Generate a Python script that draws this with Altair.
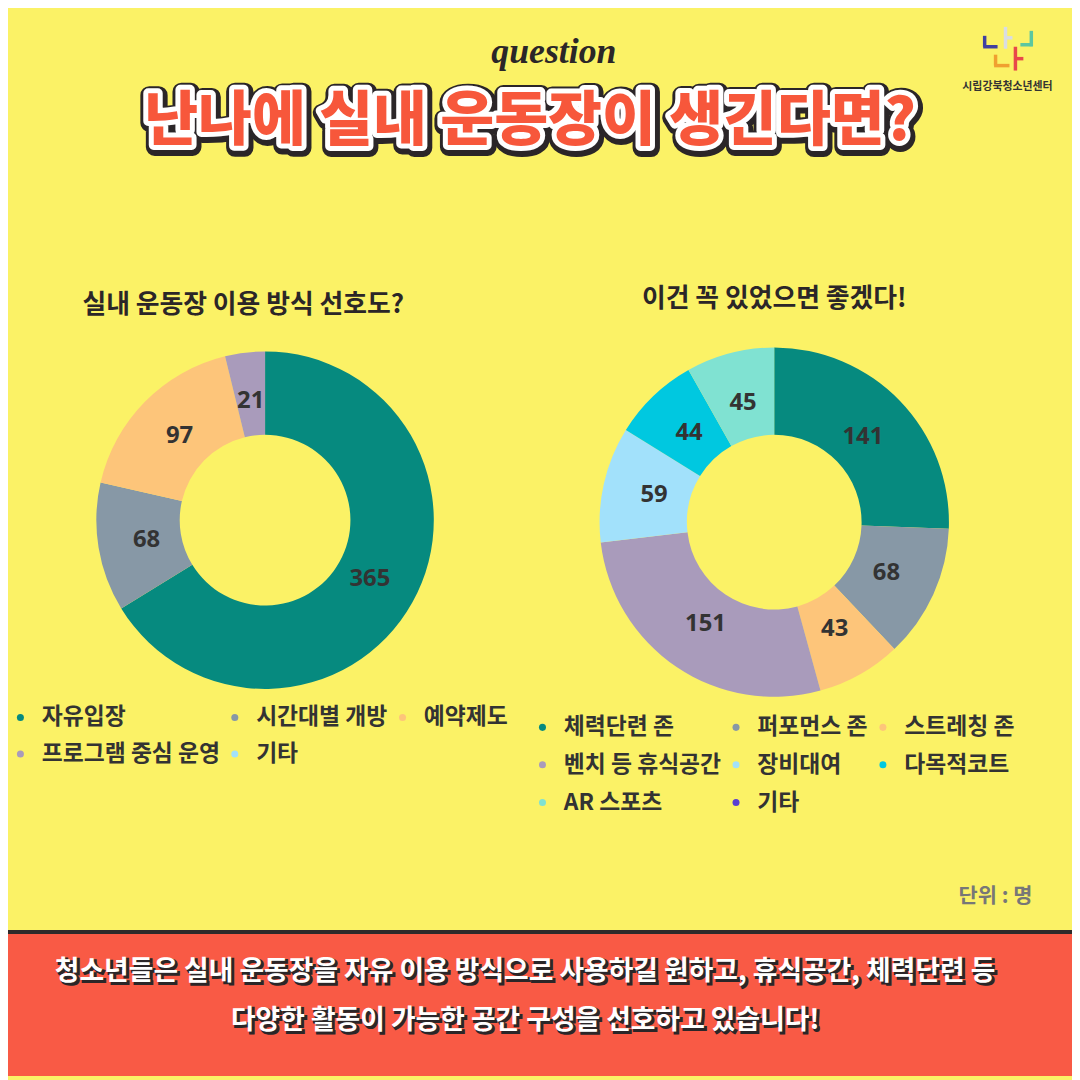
import altair as alt
import pandas as pd

# ---------------- data ----------------
left_cats = ["자유입장", "시간대별 개방", "예약제도", "프로그램 중심 운영", "기타"]
left_vals = [365, 68, 97, 21, 0]
left_colors = ["#068a7f", "#8798a6", "#fdc57a", "#a99bbb", "#a2e1fb"]

right_cats = ["체력단련 존", "퍼포먼스 존", "스트레칭 존", "벤치 등 휴식공간",
              "장비대여", "다목적코트", "AR 스포츠", "기타"]
right_vals = [141, 68, 43, 151, 59, 44, 45, 0]
right_colors = ["#068a7f", "#8798a6", "#fdc57a", "#a99bbb",
                "#a2e1fb", "#00c8e0", "#80e2d2", "#5a3fd0"]

question_text = "question"
main_title = "난나에 실내 운동장이 생긴다면?"
left_title = "실내 운동장 이용 방식 선호도?"
right_title = "이건 꼭 있었으면 좋겠다!"
unit_text = "단위 : 명"
logo_text = "시립강북청소년센터"
footer_lines = ["청소년들은 실내 운동장을 자유 이용 방식으로 사용하길 원하고, 휴식공간, 체력단련 등",
                "다양한 활동이 가능한 공간 구성을 선호하고 있습니다!"]

# ---------------- helpers ----------------
OFF = 8  # page margin
KR = "Noto Sans CJK KR"
DARK = "#2b2628"
BG = "#fbf266"

dummy = pd.DataFrame({"a": [0]})


def P(v):
    return v - OFF


def txt(text, x, y, **kw):
    return alt.Chart(dummy).mark_text(text=text, **kw).encode(
        x=alt.value(P(x)), y=alt.value(P(y)))


def rule(x1, y1, x2, y2, color, w=3.5):
    return alt.Chart(dummy).mark_rule(color=color, strokeWidth=w, strokeCap="butt").encode(
        x=alt.value(P(x1)), y=alt.value(P(y1)), x2=alt.value(P(x2)), y2=alt.value(P(y2)))


def donut(cats, vals, colors, cx, cy, r_in, r_out, r_lab, lx, ly, row_pad):
    df = pd.DataFrame({"cat": cats, "value": vals, "idx": list(range(len(cats)))})
    base = alt.Chart(df).encode(
        theta=alt.Theta("value:Q", stack=True),
        order=alt.Order("idx:Q"),
        x=alt.value(P(cx)), y=alt.value(P(cy)),
    )
    arcs = base.mark_arc(innerRadius=r_in, outerRadius=r_out, strokeWidth=0).encode(
        color=alt.Color(
            "cat:N",
            sort=cats,
            scale=alt.Scale(domain=cats, range=colors),
            legend=alt.Legend(
                orient="none", legendX=P(lx), legendY=P(ly), columns=3,
                direction="horizontal", gridAlign="each",
                title=None, symbolType="circle", symbolSize=50, symbolStrokeWidth=0,
                labelFont=KR, labelFontSize=23, labelFontWeight="bold",
                labelColor="#333333", labelOffset=10, columnPadding=3,
                rowPadding=row_pad, labelLimit=400, padding=0,
            ),
        )
    )
    labels = base.transform_filter("datum.value > 0").mark_text(
        radius=r_lab, font="Open Sans", fontWeight="bold", fontSize=24,
        color="#333333", align="center", baseline="middle",
    ).encode(text="value:Q", detail="cat:N")
    return [arcs, labels]


layers = []

# footer band
layers.append(alt.Chart(dummy).mark_rect(color="#2e2a2a").encode(
    x=alt.value(0), x2=alt.value(1072), y=alt.value(P(933)), y2=alt.value(P(937))))
layers.append(alt.Chart(dummy).mark_rect(color="#f95a45").encode(
    x=alt.value(0), x2=alt.value(1072), y=alt.value(P(937)), y2=alt.value(1072)))

for i, line in enumerate(footer_lines):
    y = 975 + i * 50
    layers.append(txt(line, 529 + 2, y + 2, font=KR, fontWeight="bold", fontSize=27,
                      color=DARK, stroke=DARK, strokeWidth=2, align="center", baseline="middle"))
    layers.append(txt(line, 529, y, font=KR, fontWeight="bold", fontSize=27,
                      color="#ffffff", align="center", baseline="middle"))

# question + main title
layers.append(txt(question_text, 558, 48, font="Liberation Serif", fontStyle="italic",
                  fontWeight="bold", fontSize=36, color=DARK, align="center", baseline="middle"))
layers.append(txt(main_title, 535, 121, font=KR, fontWeight=900, fontSize=59,
                  color=DARK, stroke=DARK, strokeWidth=18, strokeJoin="round",
                  align="center", baseline="middle"))
layers.append(txt(main_title, 534, 119, font=KR, fontWeight=900, fontSize=59,
                  color="#ffffff", stroke="#ffffff", strokeWidth=10, strokeJoin="round",
                  align="center", baseline="middle"))
layers.append(txt(main_title, 534, 119, font=KR, fontWeight=900, fontSize=59,
                  color="#f7573b", align="center", baseline="middle"))

# subtitles
layers.append(txt(left_title, 245, 303, font=KR, fontWeight="bold", fontSize=26,
                  color=DARK, align="center", baseline="middle"))
layers.append(txt(right_title, 780, 297, font=KR, fontWeight="bold", fontSize=26,
                  color=DARK, align="center", baseline="middle"))

# unit
layers.append(txt(unit_text, 1040, 900, font=KR, fontWeight="bold", fontSize=21,
                  color="#777777", align="right", baseline="middle"))

# logo
layers += [
    rule(992, 32, 992, 43, "#4040a0"), rule(990.5, 43, 1005, 43, "#4040a0"),
    rule(1013, 23, 1013, 45, "#d9dde2"), rule(1013, 34, 1020, 34, "#d9dde2"),
    rule(1028, 41, 1040.5, 41, "#5cc7a0"), rule(1039, 27, 1039, 42.5, "#5cc7a0"),
    rule(1003, 51, 1003, 62, "#f0a030"), rule(1001.5, 62, 1017, 62, "#f0a030"),
    rule(1023, 43, 1023, 67, "#e8484a"), rule(1023, 55, 1031, 55, "#e8484a"),
]
layers.append(txt(logo_text, 1015, 84, font=KR, fontWeight="bold", fontSize=11,
                  color="#333333", align="center", baseline="middle"))

# donuts
layers += donut(left_cats, left_vals, left_colors, 267, 520, 86, 170, 121, 9, 707, 13)
layers += donut(right_cats, right_vals, right_colors, 780, 522, 88, 176, 124, 535, 717, 14)

chart = alt.layer(*layers).resolve_scale(
    theta="independent", color="independent"
).properties(
    width=1072, height=1072, padding=0,
    autosize=alt.AutoSizeParams(type="none"),
    background=BG,
).configure_view(stroke="transparent")

chart.save("out.html", embed_options={"renderer": "svg", "actions": False})
